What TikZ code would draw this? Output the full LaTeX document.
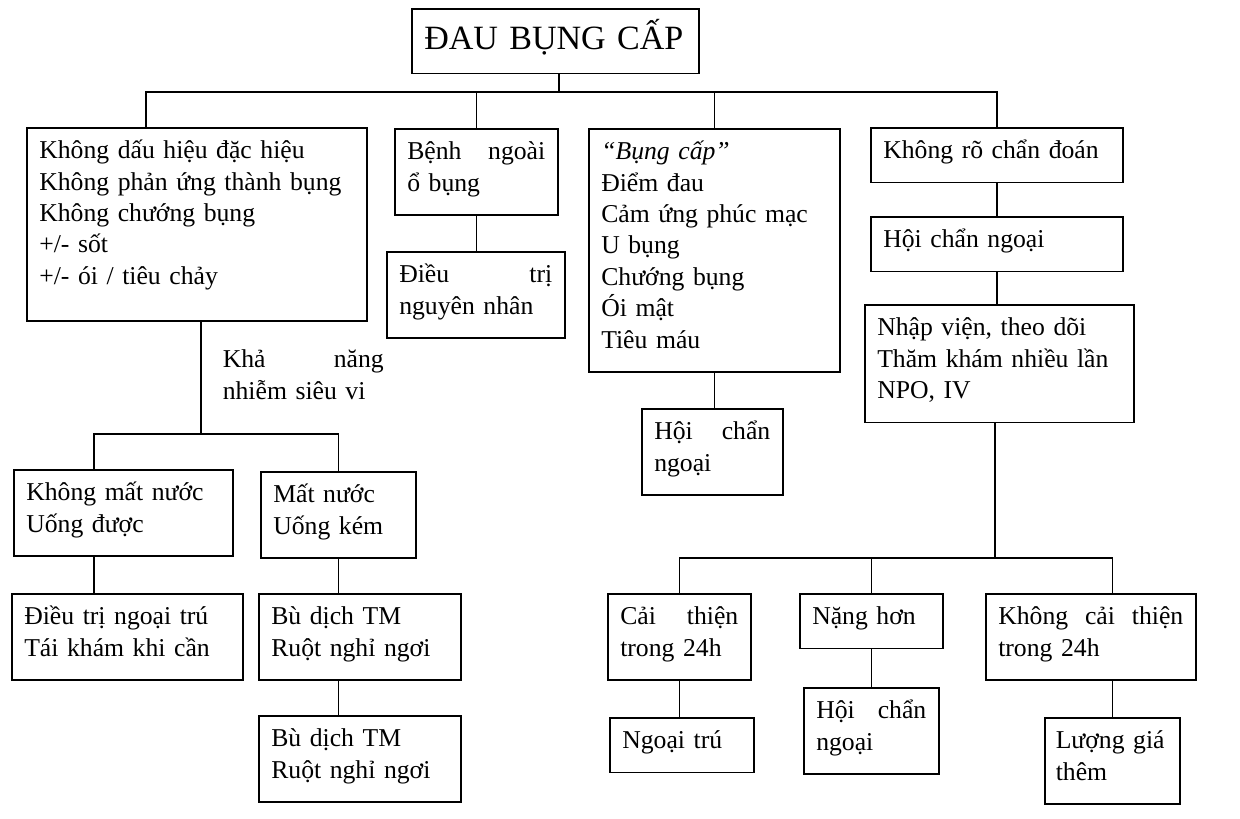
\documentclass[tikz,border=0pt]{standalone}
\usepackage{fontspec}
\setmainfont{Liberation Serif}
\usetikzlibrary{positioning, calc}
\newdimen\pxu \pxu=0.016cm
\tikzstyle{box}  = [draw=black, line width=0.7pt, anchor=north west, align=left,
                    inner xsep=12.5\pxu, inner ysep=0pt,
                    execute at begin node={\rule{0pt}{14.1pt}},
                    execute at end node={\rule[-10.9pt]{0pt}{10.9pt}}]
\tikzstyle{link} = [draw=black, line width=0.7pt]

\begin{document}
\begin{tikzpicture}[x=0.016cm, y=-0.016cm, every node/.style={font=\fontsize{11.7}{14.3}\selectfont}]
  \useasboundingbox (0,0) rectangle (1240,818);

  % Title
  \node (title) [box, text width=262\pxu, font=\fontsize{15.5}{19}\selectfont,
                 execute at begin node={\rule{0pt}{18.6pt}},
                 execute at end node={\rule[-6.3pt]{0pt}{6.3pt}}] at (411,8) {ĐAU BỤNG CẤP};

  % First level
  \node (nospec)  [box, text width=315\pxu, execute at end node={\rule[-16.8pt]{0pt}{16.8pt}}] at (26,127)
                  {Không dấu hiệu đặc hiệu\\ Không phản ứng thành bụng\\ Không chướng bụng\\ +/- sốt\\ +/- ói / tiêu chảy};
  \node (extra)   [box, text width=138\pxu] at (394,128) {Bệnh \hfill ngoài\\ ổ bụng};
  \node (surg)    [box, text width=226\pxu] at (588,128)
                  {\textit{“Bụng cấp”}\\ Điểm đau\\ Cảm ứng phúc mạc\\ U bụng\\ Chướng bụng\\ Ói mật\\ Tiêu máu};
  \node (unclear) [box, text width=227\pxu] at (870,127) {Không rõ chẩn đoán};

  % Left branch
  \node (viral)   [box, draw=none, inner xsep=0pt, text width=161\pxu] at (222,336) {Khả \hfill năng\\ nhiễm siêu vi};
  \node (nodehyd) [box, text width=194\pxu] at (13,469)  {Không mất nước\\ Uống được};
  \node (dehyd)   [box, text width=130\pxu] at (260,471) {Mất nước\\ Uống kém};
  \node (home)    [box, text width=206\pxu] at (11,593)  {Điều trị ngoại trú\\ Tái khám khi cần};
  \node (iv1)     [box, text width=177\pxu] at (258,593) {Bù dịch TM\\ Ruột nghỉ ngơi};
  \node (iv2)     [box, text width=177\pxu] at (258,715) {Bù dịch TM\\ Ruột nghỉ ngơi};

  % Middle branches
  \node (extratx)  [box, text width=153\pxu] at (386,251) {Điều \hfill trị\\ nguyên nhân};
  \node (surgcons) [box, text width=116\pxu] at (641,408) {Hội \hfill chẩn\\ ngoại};

  % Right branch
  \node (cons)     [box, text width=227\pxu] at (870,216) {Hội chẩn ngoại};
  \node (admit)    [box, text width=244\pxu] at (864,304) {Nhập viện, theo dõi\\ Thăm khám nhiều lần\\ NPO, IV};
  \node (better)   [box, text width=118\pxu] at (607,593) {Cải \hfill thiện\\ trong 24h};
  \node (worse)    [box, text width=118\pxu] at (799,593) {Nặng hơn};
  \node (nobetter) [box, text width=185\pxu] at (985,593) {Không \hfill cải \hfill thiện\\ trong 24h};
  \node (outpt)    [box, text width=119\pxu] at (609,717) {Ngoại trú};
  \node (cons2)    [box, text width=110\pxu] at (803,687) {Hội \hfill chẩn\\ ngoại};
  \node (reeval)   [box, text width=113\pxu, inner xsep=11\pxu] at (1044,717) {Lượng giá\\ thêm};

  % Bus lines
  \coordinate (topbus)   at (146,92);
  \coordinate (viralbus) at (201,434);
  \coordinate (hydbus)   at (94,434);
  \coordinate (lowbus)   at (995,558);

  % Title to first level
  \draw[link] ([xshift=3.5\pxu]title.south) -- ([xshift=3.5\pxu]title.south |- topbus);
  \draw[link] (nospec.north -| topbus) -- (topbus) -- (unclear.north |- topbus) -- (unclear.north);
  \draw[link] (extra.north) -- (extra.north |- topbus);
  \draw[link] (surg.north) -- (surg.north |- topbus);

  % Left branch lines
  \draw[link] (nospec.south -| viralbus) -- (viralbus);
  \draw[link] (nodehyd.north -| hydbus) -- (hydbus) -- (dehyd.north |- hydbus) -- (dehyd.north);
  \draw[link] (nodehyd.south -| hydbus) -- (home.north -| hydbus);
  \draw[link] (dehyd.south) -- (dehyd.south |- iv1.north);
  \draw[link] (iv1.south -| dehyd.south) -- (iv2.north -| dehyd.south);

  % Middle lines
  \draw[link] (extra.south) -- (extra.south |- extratx.north);
  \draw[link] (surg.south) -- (surg.south |- surgcons.north);

  % Right branch lines
  \draw[link] (unclear.south) -- (cons.north);
  \draw[link] (cons.south) -- (cons.south |- admit.north);
  \draw[link] (admit.south -| lowbus) -- (lowbus);
  \draw[link] (better.north) -- (better.north |- lowbus) -- (reeval.north |- lowbus) -- (reeval.north |- nobetter.north);
  \draw[link] (worse.north) -- (worse.north |- lowbus);
  \draw[link] (better.south) -- (better.south |- outpt.north);
  \draw[link] (worse.south) -- (worse.south |- cons2.north);
  \draw[link] (reeval.north |- nobetter.south) -- (reeval.north);

\end{tikzpicture}
\end{document}
